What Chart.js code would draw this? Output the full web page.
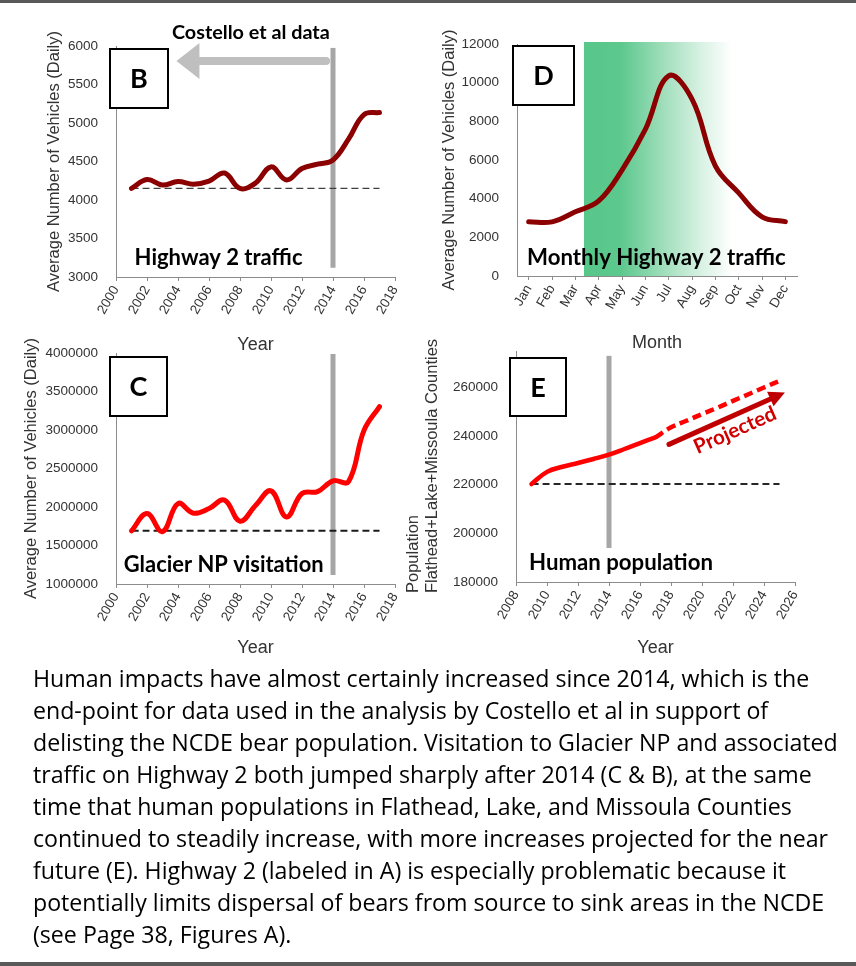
<!DOCTYPE html>
<html>
<head>
<meta charset="utf-8">
<script src="https://cdn.jsdelivr.net/npm/chart.js@4.4.1/dist/chart.umd.min.js"></script>
<style>
  html, body { margin: 0; padding: 0; background: #fff; }
  body { width: 856px; height: 966px; position: relative; overflow: hidden; }
  .rule { position: absolute; left: 0; width: 856px; background: #595959; }
  canvas { position: absolute; }
  #caption {
    position: absolute; left: 33px; top: 662px;
    font-family: 'Open Sans', Lato, sans-serif; font-size: 22px; line-height: 32px;
    color: #000; white-space: nowrap;
  }
  #caption div { width: max-content; }
</style>
</head>
<body>
<div class="rule" style="top:0;height:3px"></div>
<canvas id="chartB" width="420" height="360" style="left:0;top:0"></canvas>
<canvas id="chartD" width="436" height="360" style="left:420px;top:0"></canvas>
<canvas id="chartC" width="420" height="360" style="left:0;top:310px"></canvas>
<canvas id="chartE" width="456" height="360" style="left:400px;top:310px"></canvas>
<div id="caption">
  <div>Human impacts have almost certainly increased since 2014, which is the</div>
  <div>end-point for data used in the analysis by Costello et al in support of</div>
  <div>delisting the NCDE bear population. Visitation to Glacier NP and associated</div>
  <div>traffic on Highway 2 both jumped sharply after 2014 (C &amp; B), at the same</div>
  <div>time that human populations in Flathead, Lake, and Missoula Counties</div>
  <div>continued to steadily increase, with more increases projected for the near</div>
  <div>future (E). Highway 2 (labeled in A) is especially problematic because it</div>
  <div>potentially limits dispersal of bears from source to sink areas in the NCDE</div>
  <div>(see Page 38, Figures A).</div>
</div>
<div class="rule" style="top:962px;height:4px"></div>

<script>
// ---- data ----
const years = [2001, 2002, 2003, 2004, 2005, 2006, 2007, 2008, 2009, 2010, 2011, 2012, 2013, 2014, 2015, 2016, 2017];
const hwyTraffic = [4150, 4265, 4195, 4240, 4205, 4245, 4350, 4150, 4220, 4430, 4260, 4410, 4465, 4520, 4790, 5110, 5135];
const hwyBaseline = 4150;

const months = ['Jan', 'Feb', 'Mar', 'Apr', 'May', 'Jun', 'Jul', 'Aug', 'Sep', 'Oct', 'Nov', 'Dec'];
const monthlyTraffic = [2810, 2800, 3320, 3880, 5480, 7580, 10350, 9150, 5700, 4300, 3060, 2810];

const parkVisits = [1690000, 1915000, 1680000, 2045000, 1920000, 1980000, 2090000, 1815000, 2020000, 2210000, 1870000, 2175000, 2200000, 2340000, 2330000, 2995000, 3305000];
const parkBaseline = 1690000;

const popYears = [2009, 2010, 2011, 2012, 2013, 2014, 2015, 2016, 2017];
const population = [220300, 225300, 227400, 228950, 230600, 232400, 234700, 237150, 239500];
const projYears = [2017, 2018, 2019, 2020, 2021, 2022, 2023, 2024, 2025];
const projected = [239500, 243600, 246300, 249050, 251700, 254500, 257200, 260000, 262700];
const popBaseline = 220300;

const splitYear = 2014;

// ---- shared styles ----
const axisFont = "'Liberation Sans', Arial, sans-serif";
const labelFont = "Lato, 'Open Sans', sans-serif";
const axisColor = '#8c8c8c';
const textColor = '#333';

const pts = (xs, ys) => xs.map((x, i) => ({ x, y: ys[i] }));
const flat = (x0, x1, v) => [{ x: x0, y: v }, { x: x1, y: v }];

// explicit tick list: first..last by step
function tickList(first, last, step) {
  const out = [];
  for (let v = first; v <= last; v += step) out.push({ value: v });
  return out;
}

function yAxis(min, max, step, width, titlePad, title) {
  return {
    type: 'linear', min, max,
    afterBuildTicks(scale) { scale.ticks = tickList(min, max, step); },
    ticks: {
      padding: 10, color: textColor,
      font: { family: axisFont, size: 13.5 },
      callback: v => String(v)
    },
    grid: { display: false },
    border: { display: true, color: axisColor },
    title: {
      display: !!title, text: title, color: textColor,
      font: { family: axisFont, size: 16.5 }, padding: { top: titlePad, bottom: 0 }
    },
    afterFit(scale) { scale.width = width; }
  };
}

function xAxisCommon(height, title) {
  return {
    ticks: {
      minRotation: 60, maxRotation: 60, autoSkip: false, padding: 2,
      color: textColor, font: { family: axisFont, size: 13.5 }
    },
    grid: { display: true, drawOnChartArea: false, drawTicks: true, tickLength: 4, color: axisColor },
    border: { display: true, color: axisColor },
    title: { display: true, text: title, color: textColor, font: { family: axisFont, size: 18 }, padding: 0 },
    afterFit(scale) { scale.height = height; }
  };
}

function yearAxis(min, max, height) {
  const ax = xAxisCommon(height, 'Year');
  ax.type = 'linear';
  ax.min = min;
  ax.max = max;
  ax.afterBuildTicks = scale => { scale.ticks = tickList(min, max, 2); };
  ax.ticks.callback = v => String(v);
  return ax;
}

function drawArrow(ctx, x0, y0, x1, y1, a) {
  const ang = Math.atan2(y1 - y0, x1 - x0);
  const c = Math.cos(ang), s = Math.sin(ang);
  const bx = x1 - c * a.head, by = y1 - s * a.head;
  ctx.strokeStyle = a.color;
  ctx.fillStyle = a.color;
  ctx.lineWidth = a.width;
  ctx.lineCap = 'round';
  ctx.beginPath();
  ctx.moveTo(x0, y0);
  ctx.lineTo(bx + c * 2, by + s * 2);
  ctx.stroke();
  ctx.beginPath();
  ctx.moveTo(x1, y1);
  ctx.lineTo(bx - s * a.half, by + c * a.half);
  ctx.lineTo(bx + s * a.half, by - c * a.half);
  ctx.closePath();
  ctx.fill();
}

// annotations: shaded band, 2014 marker, panel letter, labels, arrows
function makeDecor(cfg) {
  return {
    id: 'decor',
    beforeDatasetsDraw(chart) {
      const { ctx, chartArea: a, scales: { x, y } } = chart;
      ctx.save();
      if (cfg.band) {
        const x0 = x.getPixelForValue(cfg.band.from), x1 = x.getPixelForValue(cfg.band.to);
        const g = ctx.createLinearGradient(x0, 0, x1, 0);
        cfg.band.stops.forEach(([p, col]) => g.addColorStop(p, col));
        ctx.fillStyle = g;
        ctx.fillRect(x0, a.top - 2, x1 - x0, a.bottom - a.top + 2);
      }
      if (cfg.split) {
        const px = x.getPixelForValue(cfg.split.x);
        const top = y.getPixelForValue(cfg.split.top), bot = y.getPixelForValue(cfg.split.bottom);
        ctx.fillStyle = '#a6a6a6';
        ctx.fillRect(px - 2.5, top, 5, bot - top);
      }
      ctx.restore();
    },
    afterDraw(chart) {
      const { ctx, chartArea: a, scales: { x, y } } = chart;
      ctx.save();
      (cfg.arrows || []).forEach(ar => {
        drawArrow(ctx, x.getPixelForValue(ar.from[0]), y.getPixelForValue(ar.from[1]),
          x.getPixelForValue(ar.to[0]), y.getPixelForValue(ar.to[1]), ar);
      });
      (cfg.labels || []).forEach(l => {
        let size = l.size;
        ctx.font = `bold ${size}px ${labelFont}`;
        if (l.w) {
          size = size * l.w / ctx.measureText(l.text).width;
          ctx.font = `bold ${size}px ${labelFont}`;
        }
        ctx.fillStyle = l.color || '#000';
        ctx.textAlign = l.align || 'left';
        ctx.textBaseline = 'middle';
        ctx.save();
        ctx.translate(x.getPixelForValue(l.x), y.getPixelForValue(l.y));
        if (l.rotate) ctx.rotate(l.rotate * Math.PI / 180);
        ctx.fillText(l.text, 0, 0);
        ctx.restore();
      });
      if (cfg.box) {
        const [dx, dy, w, h] = cfg.box.rect;
        const bx = a.left + dx, by = a.top + dy;
        ctx.fillStyle = '#fff';
        ctx.fillRect(bx, by, w, h);
        ctx.strokeStyle = '#000';
        ctx.lineWidth = 2;
        ctx.strokeRect(bx, by, w, h);
        ctx.fillStyle = '#000';
        ctx.font = `bold 27px ${labelFont}`;
        ctx.textAlign = 'center';
        ctx.textBaseline = 'middle';
        ctx.fillText(cfg.box.letter, bx + w / 2, by + h / 2 + 1);
      }
      if (cfg.yTitle) {
        ctx.fillStyle = textColor;
        ctx.font = `16.5px ${axisFont}`;
        ctx.textAlign = 'left';
        ctx.textBaseline = 'middle';
        cfg.yTitle.lines.forEach((t, i) => {
          ctx.save();
          ctx.translate(cfg.yTitle.xs[i], a.bottom + cfg.yTitle.dy);
          ctx.rotate(-Math.PI / 2);
          ctx.fillText(t, 0, 0);
          ctx.restore();
        });
      }
      ctx.restore();
    }
  };
}

function lineSet(data, color, width, dash) {
  return {
    data, borderColor: color, borderWidth: width, borderDash: dash || [],
    pointRadius: 0, tension: 0.4, fill: false,
    borderCapStyle: dash ? 'butt' : 'round', borderJoinStyle: 'round'
  };
}

const baseOpts = (padding) => ({
  responsive: false, animation: false, events: [],
  layout: { padding },
  plugins: { legend: { display: false }, tooltip: { enabled: false } }
});

// ---- B: Highway 2 traffic ----
new Chart(document.getElementById('chartB'), {
  type: 'line',
  data: {
    datasets: [
      lineSet(pts(years, hwyTraffic), '#8b0000', 5),
      lineSet(flat(years[0], years[years.length - 1], hwyBaseline), '#404040', 1.3, [7, 4])
    ]
  },
  options: Object.assign(baseOpts({ left: 0, top: 46, right: 25, bottom: 4 }), {
    scales: {
      x: yearAxis(2000, 2018, 79),
      y: yAxis(3000, 6000, 500, 116, 45, 'Average Number of Vehicles (Daily)')
    }
  }),
  plugins: [makeDecor({
    split: { x: splitYear, top: 5975, bottom: 3120 },
    box: { letter: 'B', rect: [-6, 3, 58, 59] },
    arrows: [{ from: [2013.55, 5805], to: [2003.9, 5805], color: '#bfbfbf', width: 8, head: 23, half: 18 }],
    labels: [
      { text: 'Costello et al data', x: 2008.7, y: 6169, size: 19, w: 158, align: 'center' },
      { text: 'Highway 2 traffic', x: 2001.2, y: 3250, size: 21, w: 168 }
    ]
  })]
});

// ---- D: monthly Highway 2 traffic ----
const monthAxis = xAxisCommon(78, 'Month');
monthAxis.type = 'category';
monthAxis.offset = true;

new Chart(document.getElementById('chartD'), {
  type: 'line',
  data: {
    labels: months,
    datasets: [lineSet(monthlyTraffic, '#8b0000', 5)]
  },
  options: Object.assign(baseOpts({ left: 0, top: 44, right: 59, bottom: 6 }), {
    scales: {
      x: monthAxis,
      y: yAxis(0, 12000, 2000, 97, 20, 'Average Number of Vehicles (Daily)')
    }
  }),
  plugins: [makeDecor({
    band: {
      from: 2.37, to: 8.7,
      stops: [[0, '#58c78a'], [0.25, '#5cc88d'], [0.55, '#a3dfbd'], [0.8, '#d9f2e4'], [1, '#ffffff']]
    },
    box: { letter: 'D', rect: [-4, 2, 61, 59] },
    labels: [{ text: 'Monthly Highway 2 traffic', x: -0.07, y: 930, size: 21, w: 259 }]
  })]
});

// ---- C: Glacier NP visitation ----
new Chart(document.getElementById('chartC'), {
  type: 'line',
  data: {
    datasets: [
      lineSet(pts(years, parkVisits), '#ff0000', 5),
      lineSet(flat(years[0], years[years.length - 1], parkBaseline), '#1a1a1a', 2, [7, 4])
    ]
  },
  options: Object.assign(baseOpts({ left: 0, top: 43, right: 25, bottom: 11 }), {
    scales: {
      x: yearAxis(2000, 2018, 75),
      y: yAxis(1000000, 4000000, 500000, 116, 22, 'Average Number of Vehicles (Daily)')
    }
  }),
  plugins: [makeDecor({
    split: { x: splitYear, top: 3987000, bottom: 1117000 },
    box: { letter: 'C', rect: [-6, 4, 57, 59] },
    labels: [{ text: 'Glacier NP visitation', x: 2000.5, y: 1247000, size: 21, w: 200 }]
  })]
});

// ---- E: human population (top of axis sits above the last labelled tick) ----
const eAxis = yAxis(180000, 275000, 20000, 116, 0, '');

new Chart(document.getElementById('chartE'), {
  type: 'line',
  data: {
    datasets: [
      lineSet(pts(popYears, population), '#ff0000', 4.5),
      lineSet(pts(projYears, projected), '#ff0000', 4.5, [9, 5]),
      lineSet(flat(popYears[0], projYears[projYears.length - 1], popBaseline), '#262626', 1.8, [7, 4])
    ]
  },
  options: Object.assign(baseOpts({ left: 0, top: 41, right: 61, bottom: 11 }), {
    scales: {
      x: yearAxis(2008, 2026, 77),
      y: eAxis
    }
  }),
  plugins: [makeDecor({
    split: { x: splitYear, top: 273000, bottom: 194000 },
    box: { letter: 'E', rect: [-6, 7, 56, 58] },
    arrows: [{ from: [2017.87, 236600], to: [2025.35, 257950], color: '#c00000', width: 5, head: 16, half: 8 }],
    labels: [
      { text: 'Human population', x: 2008.84, y: 187800, size: 21, w: 184 },
      { text: 'Projected', x: 2022.13, y: 242360, size: 17, w: 88, align: 'center', rotate: -24, color: '#d00000' }
    ],
    yTitle: { lines: ['Population', 'Flathead+Lake+Missoula Counties'], xs: [13, 32], dy: 11 }
  })]
});

// fit the caption so its widest line spans the same width as in the figure
(function fitCaption() {
  const cap = document.getElementById('caption');
  const w = cap.children[2].getBoundingClientRect().width;
  cap.style.fontSize = (22 * 805 / w).toFixed(2) + 'px';
})();
</script>
</body>
</html>
